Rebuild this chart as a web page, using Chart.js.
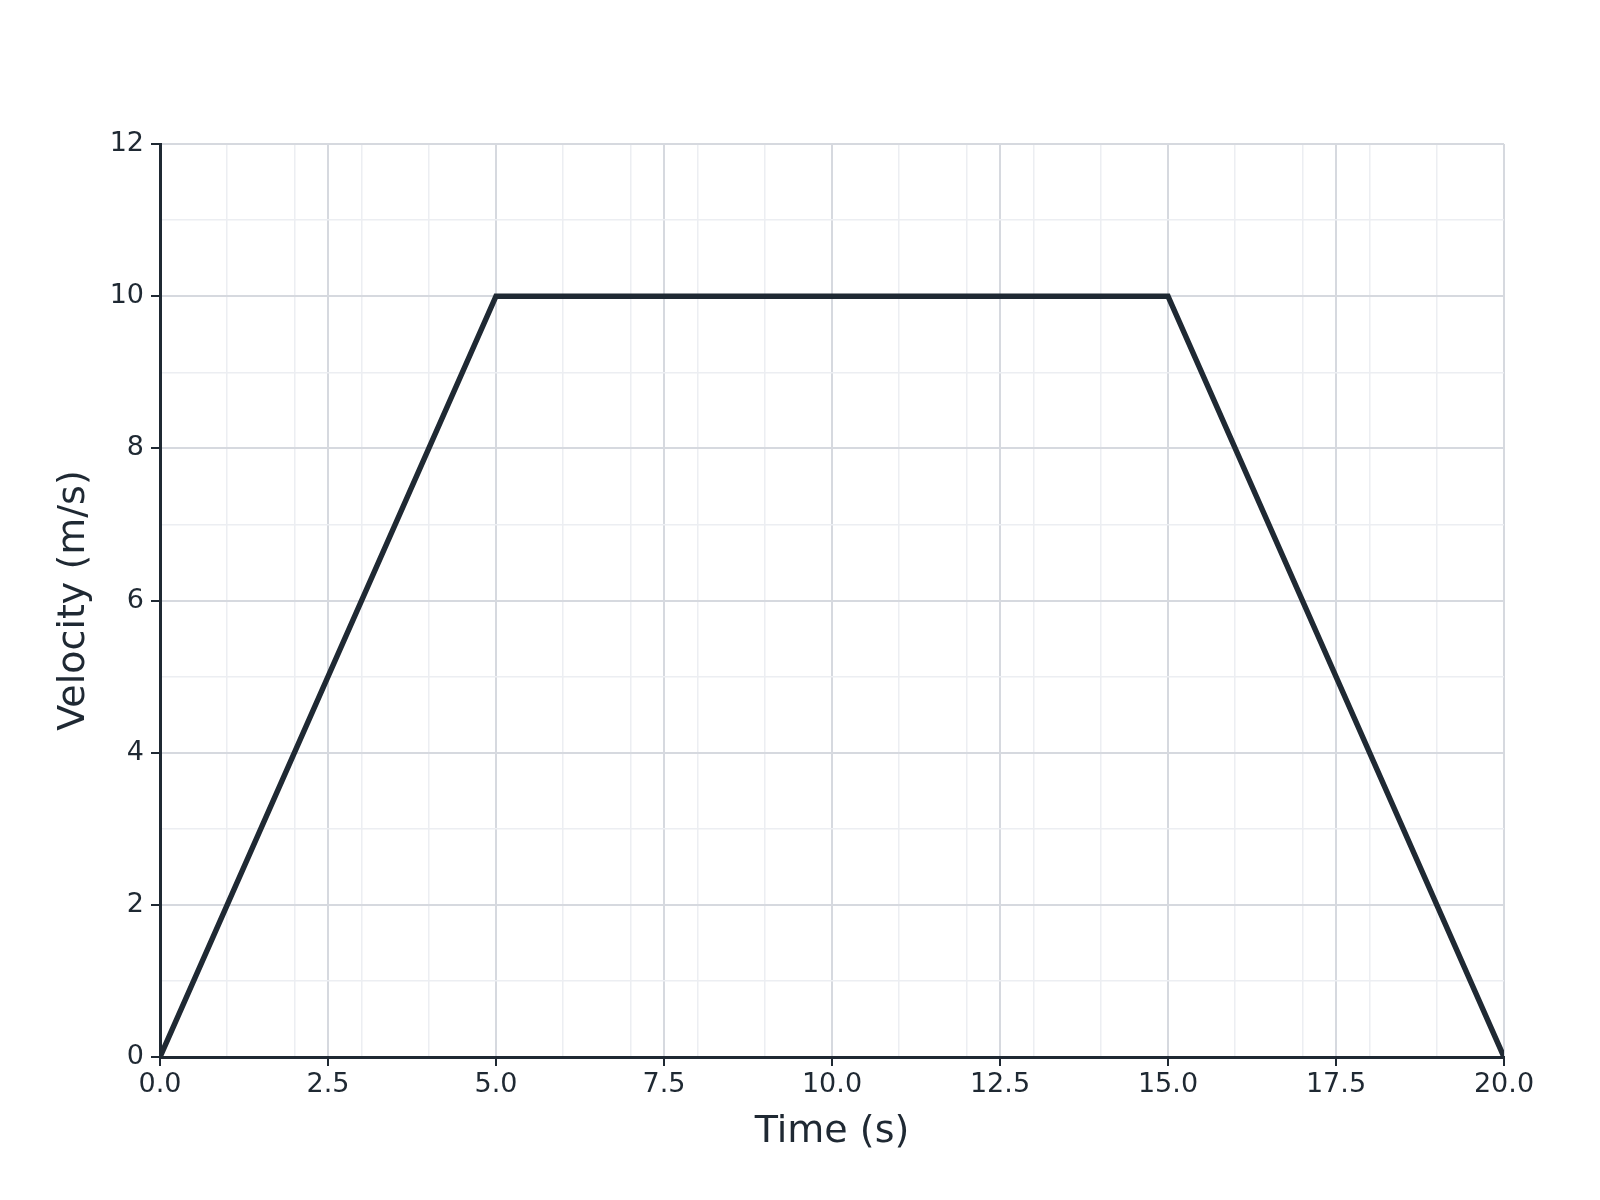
<!DOCTYPE html>
<html>
<head>
<meta charset="utf-8">
<script src="https://cdn.jsdelivr.net/npm/chart.js@4/dist/chart.umd.min.js"></script>
<style>
  html, body { margin: 0; padding: 0; background: #ffffff; }
  #wrap { width: 1600px; height: 1200px; }
</style>
</head>
<body>
<div id="wrap"><canvas id="velocityChart" width="1600" height="1200"></canvas></div>
<script>
// velocity profile: accelerate, cruise, decelerate
const times = [0, 5, 15, 20];
const velocities = [0, 10, 10, 0];

const xMajorStep = 2.5;
const yMajorStep = 2;

const dark = '#1f2933';
const majorGrid = '#d6d9df';
const minorGrid = '#eceef2';

function isMultiple(v, step) {
  const r = v / step;
  return Math.abs(r - Math.round(r)) < 1e-6;
}

function gridColor(step) {
  return (ctx) => {
    const v = ctx.tick ? ctx.tick.value : 0;
    if (isMultiple(v, step)) return majorGrid;
    if (isMultiple(v, 1)) return minorGrid;
    return 'rgba(0,0,0,0)';
  };
}

function tickColor(step) {
  return (ctx) => {
    const v = ctx.tick ? ctx.tick.value : 0;
    return isMultiple(v, step) ? dark : 'rgba(0,0,0,0)';
  };
}

const points = times.map((t, i) => ({ x: t, y: velocities[i] }));

const ctx = document.getElementById('velocityChart');

const chart = new Chart(ctx, {
  type: 'line',
  data: {
    datasets: [
      {
        label: 'Velocity',
        data: points,
        borderColor: dark,
        borderWidth: 5.5,
        pointRadius: 0,
        fill: false,
        tension: 0,
      },
    ],
  },
  options: {
    responsive: false,
    animation: false,
    layout: {
      padding: { left: 0, top: 144, right: 96, bottom: 0 },
    },
    plugins: {
      legend: { display: false },
      tooltip: { enabled: false },
    },
    scales: {
      x: {
        type: 'linear',
        min: 0,
        max: 20,
        afterFit: (scale) => { scale.height = 143; },
        border: { color: dark, width: 3 },
        grid: {
          color: gridColor(xMajorStep),
          lineWidth: (c) => (c.tick && isMultiple(c.tick.value, xMajorStep) ? 2 : 1.5),
          tickColor: tickColor(xMajorStep),
          tickLength: 9,
          tickWidth: 2,
        },
        ticks: {
          stepSize: 0.5,
          autoSkip: false,
          maxRotation: 0,
          padding: 3,
          color: dark,
          font: { family: 'DejaVu Sans', size: 27 },
          callback: (v) => (isMultiple(v, xMajorStep) ? v.toFixed(1) : ''),
        },
        title: {
          display: true,
          text: 'Time (s)',
          color: dark,
          font: { family: 'DejaVu Sans', size: 38 },
          padding: { top: 0, bottom: 45 },
        },
      },
      y: {
        type: 'linear',
        min: 0,
        max: 12,
        afterFit: (scale) => { scale.width = 160; },
        border: { color: dark, width: 3 },
        grid: {
          color: gridColor(yMajorStep),
          lineWidth: (c) => (c.tick && isMultiple(c.tick.value, yMajorStep) ? 2 : 1.5),
          tickColor: tickColor(yMajorStep),
          tickLength: 9,
          tickWidth: 2,
        },
        ticks: {
          stepSize: 1,
          autoSkip: false,
          padding: 7,
          color: dark,
          font: { family: 'DejaVu Sans', size: 27 },
          callback: (v) => (isMultiple(v, yMajorStep) ? String(v) : ''),
        },
        title: {
          display: true,
          text: 'Velocity (m/s)',
          color: dark,
          font: { family: 'DejaVu Sans', size: 38 },
          padding: { top: 51, bottom: 0 },
        },
      },
    },
  },
});
</script>
</body>
</html>
